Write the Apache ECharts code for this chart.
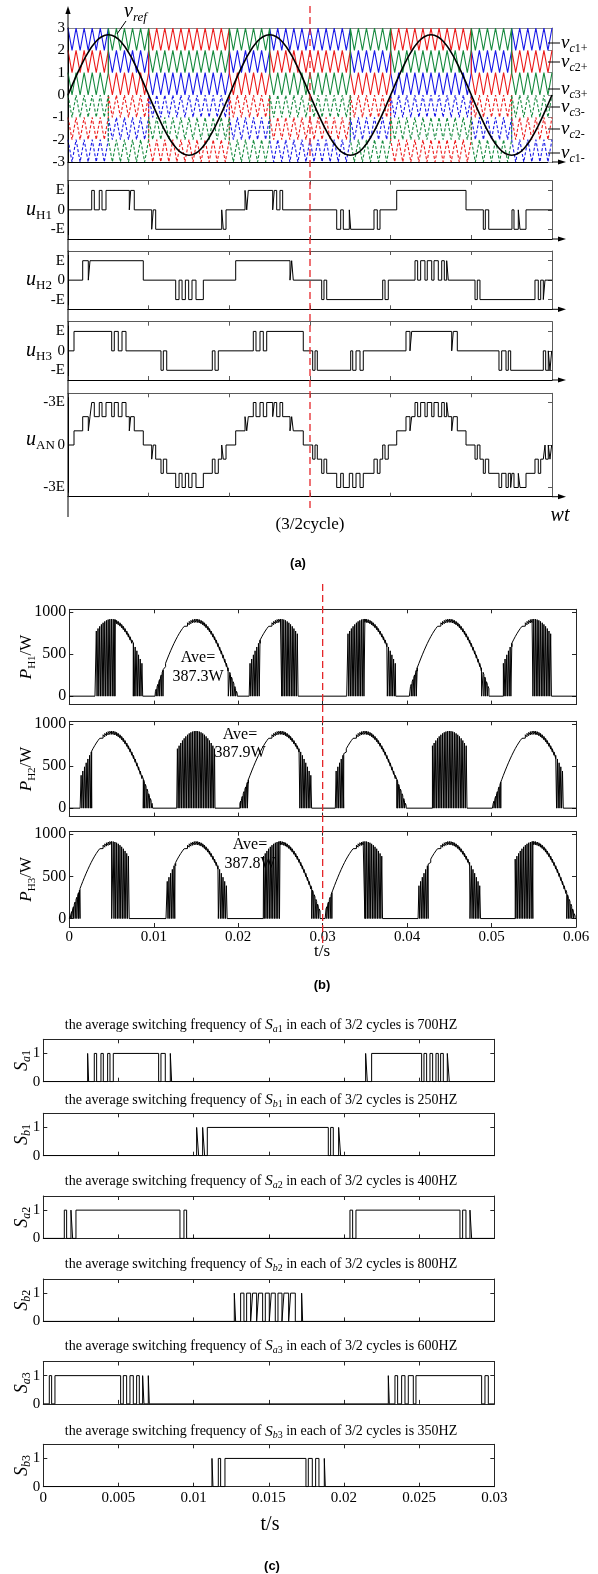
<!DOCTYPE html>
<html>
<head>
<meta charset="utf-8">
<title>Cascaded H-bridge modulation, power and switching</title>
<script src="https://cdn.jsdelivr.net/npm/echarts@6.0.0/dist/echarts.min.js"></script>
<style>
  html, body { margin: 0; padding: 0; background: #fff; }
  #chart { width: 598px; height: 1574px; }
</style>
</head>
<body>
<div id="chart"></div>
<script>
// ================= (a) level-shifted carriers and cell outputs =================
// x axis of panel (a) is wt in degrees, three fundamental cycles
const wtMaxDeg = 1080;
const refStepDeg = 15;
// reference voltage v_ref sampled every 15 degrees
const vRef = [
  0, 0.70, 1.35, 1.91, 2.34, 2.61, 2.70, 2.61, 2.34, 1.91, 1.35, 0.70,
  0, -0.70, -1.35, -1.91, -2.34, -2.61, -2.70, -2.61, -2.34, -1.91, -1.35, -0.70,
  0, 0.70, 1.35, 1.91, 2.34, 2.61, 2.70, 2.61, 2.34, 1.91, 1.35, 0.70,
  0, -0.70, -1.35, -1.91, -2.34, -2.61, -2.70, -2.61, -2.34, -1.91, -1.35, -0.70,
  0, 0.70, 1.35, 1.91, 2.34, 2.61, 2.70, 2.61, 2.34, 1.91, 1.35, 0.70,
  0, -0.70, -1.35, -1.91, -2.34, -2.61, -2.70, -2.61, -2.34, -1.91, -1.35, -0.70,
  0
];
// triangular carriers: one period every 18 degrees (20 per cycle)
const carrierPeriodDeg = 18;
// carrier rotation instants
const segEdgesDeg = [0, 90, 180, 360, 450, 630, 720, 900, 990, 1080];
// cell owning each positive band per segment: [2..3, 1..2, 0..1]
const posBands = [
  ['B', 'R', 'G'], ['G', 'B', 'R'], ['R', 'G', 'B'], ['G', 'B', 'R'], ['B', 'R', 'G'],
  ['G', 'B', 'R'], ['R', 'G', 'B'], ['G', 'B', 'R'], ['B', 'R', 'G']
];
// cell owning each negative band per segment: [-1..0, -2..-1, -3..-2]
const negBands = [
  ['G', 'R', 'B'], ['R', 'B', 'G'], ['B', 'G', 'R'], ['R', 'B', 'G'], ['G', 'R', 'B'],
  ['R', 'B', 'G'], ['B', 'G', 'R'], ['R', 'B', 'G'], ['G', 'R', 'B']
];
const cellColors = { B: '#1818e8', R: '#ec1c1c', G: '#168a3e' };
// carrier label subscripts, top to bottom
const carrierSubs = ['1+', '2+', '3+', '3-', '2-', '1-'];

// H-bridge output switching instants: [wt in degrees, new level in units of E]
const uH1Edges = [
  [52.9, 1], [58.7, 0], [69.8, 1], [75.9, 0], [84.8, 1], [136.8, 0], [139.9, 1], [147.9, 0],
  [186.8, -1], [190.3, 0], [195.7, -1], [343.0, 0], [346.5, -1], [352.6, 0],
  [395.0, 1], [398.8, 0], [402.3, 1], [456.8, 0], [460.3, 1], [465.7, 0], [473.0, 1], [479.0, 0],
  [599.6, -1], [608.5, 0], [614.3, -1], [627.7, 0], [630.8, -1], [682.8, 0], [690.2, -1], [696.2, 0],
  [733.5, 1], [888.1, 0],
  [926.7, -1], [931.2, 0], [938.8, -1], [990.7, 0], [995.2, -1], [1004.8, 0], [1008.6, -1], [1022.0, 0]
];
const uH2Edges = [
  [32.8, 1], [45.3, 0], [49.1, 1], [168.0, 0],
  [240.3, -1], [247.8, 0], [254.5, -1], [261.9, 0], [269.3, -1], [276.7, 0], [285.6, -1], [302.0, 0],
  [374.2, 1], [495.4, 0], [499.1, 1], [502.7, 0],
  [566.1, -1], [571.2, 0], [577.3, -1], [702.2, 0], [707.4, -1], [714.7, 0],
  [774.3, 1], [780.2, 0], [786.9, 1], [796.5, 0], [801.7, 1], [811.6, 0], [816.7, 1], [826.3, 0],
  [833.9, 1], [839.7, 0], [845.0, 1], [848.6, 0],
  [908.2, -1], [913.3, 0], [919.3, -1], [1042.0, 0], [1049.4, -1], [1054.8, 0], [1060.6, -1], [1064.4, 0]
];
const uH3Edges = [
  [13.4, 1], [97.5, 0], [103.3, 1], [112.2, 0], [120.5, 1], [129.4, 0],
  [207.5, -1], [212.7, 0], [220.3, -1], [322.0, 0], [328.0, -1], [335.4, 0],
  [413.5, 1], [419.5, 0], [428.4, 1], [435.8, 0], [443.4, 1], [525.0, 0],
  [546.0, -1], [551.2, 0], [556.3, -1], [630.8, 0], [635.3, -1], [642.7, 0], [651.6, -1], [658.9, 0],
  [754.2, 1], [763.1, 0], [766.9, 1], [856.2, 0], [859.8, 1], [868.7, 0],
  [961.7, -1], [967.7, 0], [977.4, -1], [982.5, 0], [987.8, -1], [1060.6, 0], [1065.9, -1],
  [1071.7, 0], [1075.5, -1], [1079.3, 0]
];

// ================= (b) cell power =================
const tMaxB = 0.06;
const powerPeakW = 915;      // crest of the |p| envelope
const lineHz = 50;
const pwmPeriodS = 0.0002;   // spacing of the chopped power pulses
const rippleW = 40;          // switching ripple on the conducting intervals
const powerAverages = ['387.3W', '387.9W', '387.8W'];
// conduction intervals [start s, end s, 'p' = chopped | 's' = continuous]
const pH1Zones = [
  [0.00304, 0.00541, 'p'], [0.00541, 0.00758, 's'], [0.00758, 0.00876, 'p'],
  [0.01015, 0.01113, 'p'], [0.01113, 0.01883, 's'], [0.01883, 0.01990, 'p'],
  [0.02130, 0.02258, 'p'], [0.02258, 0.02515, 's'], [0.02515, 0.02710, 'p'],
  [0.03285, 0.03500, 'p'], [0.03500, 0.03766, 's'], [0.03766, 0.03865, 'p'],
  [0.04027, 0.04120, 'p'], [0.04120, 0.04883, 's'], [0.04883, 0.04980, 'p'],
  [0.05140, 0.05240, 'p'], [0.05240, 0.05490, 's'], [0.05490, 0.05720, 'p']
];
const pH2Zones = [
  [0.00128, 0.00265, 'p'], [0.00265, 0.00876, 's'], [0.00876, 0.00987, 'p'],
  [0.01272, 0.01725, 'p'],
  [0.02020, 0.02120, 'p'], [0.02120, 0.02730, 's'], [0.02730, 0.02870, 'p'],
  [0.03150, 0.03250, 'p'], [0.03250, 0.03880, 's'], [0.03880, 0.03990, 'p'],
  [0.04300, 0.04710, 'p'],
  [0.05010, 0.05110, 'p'], [0.05110, 0.05770, 's'], [0.05770, 0.05850, 'p']
];
const pH3Zones = [
  [0.00000, 0.00127, 'p'], [0.00127, 0.00502, 's'], [0.00502, 0.00719, 'p'],
  [0.01145, 0.01252, 'p'], [0.01252, 0.01765, 's'], [0.01765, 0.01871, 'p'],
  [0.02297, 0.02495, 'p'], [0.02495, 0.02870, 's'], [0.02870, 0.02970, 'p'],
  [0.03030, 0.03110, 'p'], [0.03110, 0.03500, 's'], [0.03500, 0.03720, 'p'],
  [0.04130, 0.04250, 'p'], [0.04250, 0.04745, 's'], [0.04745, 0.04870, 'p'],
  [0.05280, 0.05490, 'p'], [0.05490, 0.05890, 's'], [0.05890, 0.06000, 'p']
];

// ================= (c) switch gate signals over 3/2 cycle =================
const tMaxC = 0.03;
const switchFreqHz = ['700', '250', '400', '800', '600', '350'];
const switchNames = [['a', '1'], ['b', '1'], ['a', '2'], ['b', '2'], ['a', '3'], ['b', '3']];
// on intervals [on s, off s]
const sa1On = [
  [0.002949, 0.003016], [0.003392, 0.003548], [0.003836, 0.003991], [0.004279, 0.004435],
  [0.004656, 0.007672], [0.007827, 0.008115], [0.008448, 0.008537],
  [0.021441, 0.021552], [0.021840, 0.025166], [0.025322, 0.025499], [0.025721, 0.025898],
  [0.026120, 0.026275], [0.026430, 0.026608], [0.026874, 0.027007]
];
const sb1On = [
  [0.010200, 0.010333], [0.010599, 0.010732], [0.010909, 0.018958], [0.019113, 0.019290],
  [0.019645, 0.019778]
];
const sa2On = [
  [0.001397, 0.001552], [0.001840, 0.001951], [0.002173, 0.009091], [0.009357, 0.009534],
  [0.020399, 0.020576], [0.020798, 0.027716], [0.027894, 0.028115], [0.028381, 0.028492]
];
const sb2On = [
  [0.012705, 0.012794], [0.013126, 0.013348], [0.013525, 0.013792], [0.013925, 0.014191],
  [0.014324, 0.014590], [0.014767, 0.015033], [0.015166, 0.015432], [0.015610, 0.015876],
  [0.016009, 0.016319], [0.016452, 0.016763], [0.017184, 0.017251]
];
const sa3On = [
  [0.000399, 0.000554], [0.000776, 0.005144], [0.005322, 0.005543], [0.005765, 0.005987],
  [0.006208, 0.006386], [0.006608, 0.006696], [0.006984, 0.007051],
  [0.022949, 0.023016], [0.023392, 0.023570], [0.023836, 0.024058], [0.024279, 0.024612],
  [0.024789, 0.029157], [0.029379, 0.029601]
];
const sb3On = [
  [0.011220, 0.011286], [0.011641, 0.011796], [0.012084, 0.017472], [0.017627, 0.017894],
  [0.018115, 0.018337], [0.018692, 0.018758]
];

// ================= building helpers =================
const serif = '"Liberation Serif", "Times New Roman", serif';
const sans = '"Liberation Sans", Arial, sans-serif';
const grids = [], xAxes = [], yAxes = [], series = [];

function addPanel(p) {
  const gi = grids.length;
  grids.push({ left: p.left, top: p.top, width: p.width, height: p.height, show: false });
  const frame = p.frame || '#262626';
  const line = (c) => ({ show: true, onZero: false, lineStyle: { color: c, width: 1 } });
  const tick = (show, vals) => {
    const t = { show: !!show, inside: true, length: 4, lineStyle: { color: frame, width: 1 } };
    if (vals) t.customValues = vals;
    return t;
  };
  const xBase = { gridIndex: gi, type: 'value', min: p.xMin, max: p.xMax, interval: p.xInterval,
    splitLine: { show: false } };
  const xi = xAxes.length;
  xAxes.push(Object.assign({}, xBase, {
    position: 'bottom', axisLine: line(p.bottomColor || frame), axisTick: tick(p.xTicks),
    axisLabel: p.xLabels ? { show: true, fontFamily: serif, fontSize: 15, color: '#000',
      margin: p.xLabelMargin || 4, formatter: p.xFmt } : { show: false }
  }));
  xAxes.push(Object.assign({}, xBase, {
    position: 'top', axisLine: line(p.topColor || frame), axisTick: tick(p.xTicks),
    axisLabel: { show: false }
  }));
  const yBase = { gridIndex: gi, type: 'value', min: p.yMin, max: p.yMax, splitLine: { show: false } };
  if (p.yInterval) yBase.interval = p.yInterval;
  const yi = yAxes.length;
  const lab = { show: true, fontFamily: serif, fontSize: p.yFontSize || 15, color: '#000', margin: 3,
    formatter: p.yFmt || ((v) => String(v)) };
  if (p.yVals) lab.customValues = p.yVals;
  yAxes.push(Object.assign({}, yBase, {
    position: 'left', axisLine: line(p.leftColor || frame), axisTick: tick(p.leftTicks, p.yVals), axisLabel: lab
  }));
  yAxes.push(Object.assign({}, yBase, {
    position: 'right', axisLine: line(frame), axisTick: tick(p.rightTicks, p.yVals),
    axisLabel: { show: false }
  }));
  return { gi, xi, yi };
}

function lineSeries(ax, data, style, extra) {
  return Object.assign({
    type: 'line', xAxisIndex: ax.xi, yAxisIndex: ax.yi, data, showSymbol: false, symbol: 'none',
    animation: false, silent: true, lineStyle: Object.assign({ color: '#000', width: 1 }, style)
  }, extra || {});
}

function stepPoints(edges, endX) {
  const pts = [[0, 0]];
  let lv = 0;
  edges.forEach(([t, v]) => { pts.push([t, lv], [t, v]); lv = v; });
  pts.push([endX, lv]);
  return pts;
}

function levelAt(edges, t) {
  let lv = 0;
  for (const [te, v] of edges) { if (te <= t) lv = v; else break; }
  return lv;
}

// ================= panel (a) =================
const A_LEFT = 68, A_W = 484;
const aLayout = [
  { top: 28, height: 134 },
  { top: 180.7, height: 58.3 },
  { top: 251, height: 58.3 },
  { top: 321.7, height: 58.3 },
  { top: 393.3, height: 103.4 }
];
const aFrame = '#5a5a5a';

const axCar = addPanel({
  left: A_LEFT, top: aLayout[0].top, width: A_W, height: aLayout[0].height,
  xMin: 0, xMax: wtMaxDeg, xInterval: 180, xTicks: false,
  yMin: -3, yMax: 3, yInterval: 1, leftTicks: false, rightTicks: true,
  frame: '#8a8a8a', bottomColor: '#000', leftColor: '#000', yFontSize: 15
});

['B', 'R', 'G'].forEach((c) => {
  [['pos', posBands], ['neg', negBands]].forEach(([kind, table]) => {
    const pts = [];
    const half = carrierPeriodDeg / 2;
    for (let s = 0; s < table.length; s++) {
      const idx = table[s].indexOf(c);
      const lo = kind === 'pos' ? 2 - idx : -1 - idx;
      const a = segEdgesDeg[s], b = segEdgesDeg[s + 1];
      for (let k = Math.round(a / half); k <= Math.round(b / half); k++) {
        pts.push([k * half, k % 2 === 0 ? lo + 1 : lo]);
      }
    }
    series.push(lineSeries(axCar, pts,
      { color: cellColors[c], width: 1.1, type: kind === 'neg' ? [3, 2] : 'solid' }, { clip: false }));
  });
});
series.push(lineSeries(axCar, vRef.map((v, i) => [i * refStepDeg, v]),
  { color: '#000', width: 1.6 }, { smooth: 0.5, clip: false }));

const uFmt = (v) => (v === 1 ? 'E' : v === -1 ? '-E' : '0');
const uPanels = [uH1Edges, uH2Edges, uH3Edges].map((edges, i) => {
  const ax = addPanel({
    left: A_LEFT, top: aLayout[i + 1].top, width: A_W, height: aLayout[i + 1].height,
    xMin: 0, xMax: wtMaxDeg, xInterval: 180, xTicks: true,
    yMin: -1.5, yMax: 1.5, yVals: [-1, 0, 1], yFmt: uFmt, leftTicks: false, rightTicks: true,
    frame: aFrame, bottomColor: '#000', leftColor: '#000'
  });
  series.push(lineSeries(ax, stepPoints(edges, wtMaxDeg), { width: 1 }));
  return ax;
});

// phase voltage = sum of the three cell outputs
const allEdgeT = Array.from(new Set([...uH1Edges, ...uH2Edges, ...uH3Edges].map((e) => e[0]))).sort((a, b) => a - b);
const uANEdges = allEdgeT.map((t) => [t, levelAt(uH1Edges, t) + levelAt(uH2Edges, t) + levelAt(uH3Edges, t)]);
const axAN = addPanel({
  left: A_LEFT, top: aLayout[4].top, width: A_W, height: aLayout[4].height,
  xMin: 0, xMax: wtMaxDeg, xInterval: 180, xTicks: true,
  yMin: -3.65, yMax: 3.65, yVals: [-3, 0, 3], yFmt: (v) => (v === 0 ? '0' : '-3E'),
  leftTicks: false, rightTicks: true, frame: aFrame, bottomColor: '#000', leftColor: '#000'
});
series.push(lineSeries(axAN, stepPoints(uANEdges, wtMaxDeg), { width: 1 }));

// ================= panel (b) =================
const B_LEFT = 69.3, B_W = 506.7;
const bTops = [609.3, 721.3, 831.7];
const bH = 95.3;
const envelope = (t) => powerPeakW * Math.abs(Math.sin(2 * Math.PI * lineHz * t));

function powerPoints(zones) {
  const pts = [[0, 0]];
  const pw = 0.45 * pwmPeriodS;
  zones.forEach(([a, b, kind]) => {
    pts.push([a, 0]);
    const k0 = Math.ceil(a / pwmPeriodS - 1e-9);
    if (kind === 'p') {
      for (let k = k0; k * pwmPeriodS < b - 1e-9; k++) {
        const t = k * pwmPeriodS;
        const t2 = Math.min(t + pw, b);
        pts.push([t, 0], [t, envelope(t)], [t2, envelope(t2)], [t2, 0]);
      }
    } else {
      pts.push([a, envelope(a)]);
      for (let k = k0; k * pwmPeriodS < b - 1e-9; k++) {
        const t = k * pwmPeriodS;
        pts.push([t, Math.max(0, envelope(t) - rippleW)], [t, envelope(t)]);
      }
      pts.push([b, envelope(b)], [b, 0]);
    }
  });
  pts.push([tMaxB, 0]);
  return pts;
}

const bAxes = [pH1Zones, pH2Zones, pH3Zones].map((zones, i) => {
  const ax = addPanel({
    left: B_LEFT, top: bTops[i], width: B_W, height: bH,
    xMin: 0, xMax: tMaxB, xInterval: 0.01, xTicks: true, xLabels: i === 2, xLabelMargin: 3,
    xFmt: (v) => String(Math.round(v * 100) / 100),
    yMin: -100, yMax: 1030, yVals: [0, 500, 1000], leftTicks: true, rightTicks: true, yFontSize: 16
  });
  series.push(lineSeries(ax, powerPoints(zones), { width: 1 }));
  return ax;
});

// ================= panel (c) =================
const C_LEFT = 43.3, C_W = 451, C_H = 42.4;
const cTops = [1039.3, 1113.3, 1196, 1279, 1361.5, 1444.3];
const cTitleY = [1025, 1100, 1181, 1264.3, 1346, 1431.7];
const cAxes = [sa1On, sb1On, sa2On, sb2On, sa3On, sb3On].map((on, i) => {
  const ax = addPanel({
    left: C_LEFT, top: cTops[i], width: C_W, height: C_H,
    xMin: 0, xMax: tMaxC, xInterval: 0.005, xTicks: true, xLabels: i === 5, xLabelMargin: 4,
    xFmt: (v) => String(Math.round(v * 1000) / 1000),
    yMin: 0, yMax: 1.5, yVals: [0, 1], leftTicks: true, rightTicks: true, yFontSize: 15
  });
  const pts = [[0, 0]];
  on.forEach(([a, b]) => pts.push([a, 0], [a, 1], [b, 1], [b, 0]));
  pts.push([tMaxC, 0]);
  series.push(lineSeries(ax, pts, { width: 1 }));
  return ax;
});

// ================= render =================
const chart = echarts.init(document.getElementById('chart'), null, { renderer: 'canvas', width: 598, height: 1574 });
chart.setOption({
  animation: false,
  backgroundColor: '#fff',
  grid: grids, xAxis: xAxes, yAxis: yAxes, series
});

// ---------- text and decorations ----------
const mathRich = (big, small) => ({
  i: { fontFamily: serif, fontStyle: 'italic', fontSize: big, lineHeight: big + 4, verticalAlign: 'middle', fill: '#000' },
  r: { fontFamily: serif, fontSize: big, lineHeight: big + 4, verticalAlign: 'middle', fill: '#000' },
  si: { fontFamily: serif, fontStyle: 'italic', fontSize: small, lineHeight: small, verticalAlign: 'bottom', fill: '#000' },
  s: { fontFamily: serif, fontSize: small, lineHeight: small, verticalAlign: 'bottom', fill: '#000' }
});
function text(x, y, str, opt) {
  opt = opt || {};
  const style = {
    text: str, x: 0, y: 0, align: opt.align || 'center', verticalAlign: 'middle', fill: '#000',
    fontFamily: opt.family || serif, fontSize: opt.size || 16,
    fontStyle: opt.italic ? 'italic' : 'normal', fontWeight: opt.bold ? 'bold' : 'normal'
  };
  if (opt.rich) style.rich = opt.rich;
  return { type: 'text', x, y, rotation: opt.rot || 0, silent: true, z: 100, style };
}
function seg(x1, y1, x2, y2, stroke, width, dash) {
  const style = { stroke: stroke || '#000', lineWidth: width || 1 };
  if (dash) style.lineDash = dash;
  return { type: 'line', silent: true, z: 90, shape: { x1, y1, x2, y2 }, style };
}
function arrowRight(x, y) {
  return { type: 'polygon', silent: true, z: 90, shape: { points: [[x, y], [x - 8, y - 2.6], [x - 8, y + 2.6]] }, style: { fill: '#000' } };
}

const g = [];
const px = (ax, xv, yv) => chart.convertToPixel({ gridIndex: ax.gi }, [xv, yv]);

// panel (a): long vertical axis with arrow and extended time axes
g.push(seg(A_LEFT, 12, A_LEFT, 517, '#000', 1));
g.push({ type: 'polygon', silent: true, z: 90, shape: { points: [[A_LEFT, 6], [A_LEFT - 2.6, 14], [A_LEFT + 2.6, 14]] }, style: { fill: '#000' } });
aLayout.forEach((l) => {
  const y = l.top + l.height;
  g.push(seg(A_LEFT + A_W, y, A_LEFT + A_W + 8, y, '#000', 1));
  g.push(arrowRight(A_LEFT + A_W + 14, y));
});
// 3/2 cycle marker
const xHalf = px(axCar, wtMaxDeg / 2, 0)[0];
g.push(seg(xHalf, 6, xHalf, 512, '#e5262a', 1.3, [7, 4]));
const xHalfB = px(bAxes[0], tMaxB / 2, 0)[0];
g.push(seg(xHalfB, 584, xHalfB, 945, '#e5262a', 1.3, [7, 4]));

// carrier labels
const r20 = mathRich(20, 13);
g.push(text(124, 12, '{i|v}{si|ref}', { align: 'left', rich: r20 }));
g.push(seg(126, 21, 117, 34, '#000', 1));
const carrierLabelY = [43, 62, 89, 107, 129, 153];
carrierSubs.forEach((sub, i) => {
  const y = carrierLabelY[i];
  g.push(seg(548, y, 560, y, '#000', 1));
  g.push(text(561, y, '{i|v}{si|c}{s|' + sub + '}', { align: 'left', rich: mathRich(19, 12) }));
});
// cell output labels
[['H1', 210], ['H2', 280], ['H3', 351], ['AN', 440]].forEach(([sub, y]) => {
  g.push(text(26, y, '{i|u}{s|' + sub + '}', { align: 'left', rich: mathRich(20, 13) }));
});
g.push(text(xHalf, 525, '(3/2cycle)', { size: 17 }));
g.push(text(560, 516, 'wt', { size: 20, italic: true }));
g.push(text(298, 563, '(a)', { size: 13, bold: true, family: sans }));

// panel (b)
bAxes.forEach((ax, i) => {
  const cy = bTops[i] + bH / 2;
  g.push(text(27, cy, '{i|P}{s|H' + (i + 1) + '}{r|/W}', { rot: Math.PI / 2, rich: mathRich(17, 11) }));
});
const aveLabelPos = [[198, 658, 677], [240, 734.3, 752.7], [250, 845, 863.3]];
aveLabelPos.forEach(([x, y1, y2], i) => {
  g.push(text(x, y1, 'Ave=', { size: 16 }));
  g.push(text(x, y2, powerAverages[i], { size: 16 }));
});
g.push(text(322, 952, 't/s', { size: 17 }));
g.push(text(322, 985, '(b)', { size: 13, bold: true, family: sans }));

// panel (c)
const tRich = {
  n: { fontFamily: serif, fontSize: 14, lineHeight: 18, verticalAlign: 'middle', fill: '#000' },
  S: { fontFamily: serif, fontStyle: 'italic', fontSize: 15.5, lineHeight: 18, verticalAlign: 'middle', fill: '#000' },
  si: { fontFamily: serif, fontStyle: 'italic', fontSize: 10, lineHeight: 10, verticalAlign: 'bottom', fill: '#000' },
  s: { fontFamily: serif, fontSize: 10, lineHeight: 10, verticalAlign: 'bottom', fill: '#000' }
};
cAxes.forEach((ax, i) => {
  const [ss, sn] = switchNames[i];
  g.push(text(261, cTitleY[i],
    '{n|the average switching frequency of }{S|S}{si|' + ss + '}{s|' + sn + '}{n| in each of 3/2 cycles is ' + switchFreqHz[i] + 'HZ}',
    { rich: tRich }));
  g.push(text(22, cTops[i] + C_H / 2, '{i|S}{si|' + ss + '}{s|' + sn + '}', { rot: Math.PI / 2, rich: mathRich(18, 12) }));
});
g.push(text(270, 1525, 't/s', { size: 20 }));
g.push(text(272, 1566, '(c)', { size: 13, bold: true, family: sans }));

chart.setOption({ graphic: { elements: g } });
</script>
</body>
</html>
